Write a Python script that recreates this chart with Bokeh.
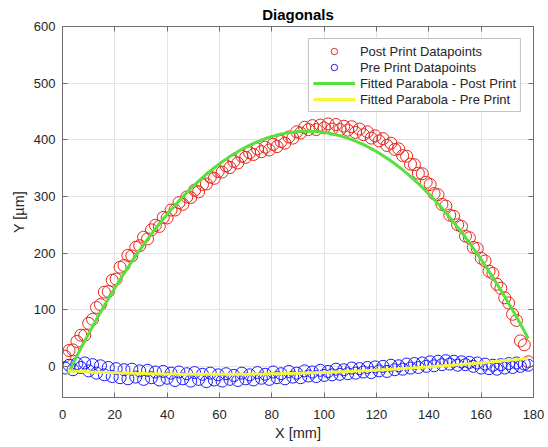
import numpy as np
from bokeh.plotting import figure
from bokeh.models import Range1d, LinearAxis, FixedTicker, Legend, LegendItem, CustomLabelingPolicy
from bokeh.embed import file_html
from bokeh.resources import INLINE

# ---- data ----
x_mm = [1.0, 2.5, 4.0, 5.5, 7.0, 8.5, 10.0, 11.5, 13.0, 14.5, 16.0, 17.5, 19.0, 20.5, 22.0, 23.5,
        25.0, 26.5, 28.0, 29.5, 31.0, 32.5, 34.0, 35.5, 37.0, 38.5, 40.0, 41.5, 43.0, 44.5, 46.0,
        47.5, 49.0, 50.5, 52.0, 53.5, 55.0, 56.5, 58.0, 59.5, 61.0, 62.5, 64.0, 65.5, 67.0, 68.5,
        70.0, 71.5, 73.0, 74.5, 76.0, 77.5, 79.0, 80.5, 82.0, 83.5, 85.0, 86.5, 88.0, 89.5, 91.0,
        92.5, 94.0, 95.5, 97.0, 98.5, 100.0, 101.5, 103.0, 104.5, 106.0, 107.5, 109.0, 110.5,
        112.0, 113.5, 115.0, 116.5, 118.0, 119.5, 121.0, 122.5, 124.0, 125.5, 127.0, 128.5,
        130.0, 131.5, 133.0, 134.5, 136.0, 137.5, 139.0, 140.5, 142.0, 143.5, 145.0, 146.5,
        148.0, 149.5, 151.0, 152.5, 154.0, 155.5, 157.0, 158.5, 160.0, 161.5, 163.0, 164.5,
        166.0, 167.5, 169.0, 170.5, 172.0, 173.5, 175.0, 176.5, 178.0]

post_print_y = [18, 28, 29, 44, 55, 55, 76, 83, 104, 109, 131, 132, 152, 154, 175, 178,
                196, 195, 210, 213, 228, 225, 241, 249, 247, 263, 262, 276, 276, 289, 286,
                299, 298, 311, 308, 321, 322, 334, 332, 344, 343, 354, 351, 362, 359, 371,
                369, 377, 374, 384, 379, 387, 382, 392, 388, 397, 394, 405, 403, 414, 412,
                422, 418, 425, 418, 426, 421, 428, 419, 427, 418, 424, 417, 423,
                413, 419, 409, 414, 403, 407, 398, 402, 390, 394, 383, 384,
                372, 371, 357, 356, 341, 340, 325, 321, 305, 303, 286, 283,
                267, 265, 250, 247, 230, 227, 210, 208, 191, 186, 168, 164,
                145, 138, 121, 112, 92, 81, 45, 38, 8]

pre_print_y = [-3, 2, -6, 5, -2, 6, -8, 3, -12, 1, -15, -2, -18, -4, -20, -6,
               -22, -5, -19, -8, -23, -7, -20, -10, -24, -9, -21, -12, -25, -10, -22,
               -13, -26, -11, -23, -14, -27, -12, -24, -15, -26, -13, -23, -16, -25, -12,
               -22, -15, -24, -11, -21, -14, -23, -10, -20, -13, -22, -9, -19, -12, -20,
               -8, -17, -10, -18, -7, -16, -9, -15, -5, -14, -6, -13, -3,
               -12, -4, -10, -2, -11, -1, -8, 0, -9, 2, -6, 1,
               -5, 4, -3, 5, -2, 6, 0, 8, 1, 9, 3, 10,
               4, 9, 2, 8, 3, 7, 0, 6, -3, 4, -4, 2,
               -5, 3, -3, 5, -2, 6, 0, 4, 2]

# fitted parabolas y = a*x^2 + b*x + c  (coefficients read from the drawn fits)
post_fit_coeffs = [-0.05124, 9.582, -32.9]
pre_fit_coeffs = [0.001955, -0.227, -7.55]
fit_x_range = [2.0, 178.0]

x_ticks = [0, 20, 40, 60, 80, 100, 120, 140, 160, 180]
y_ticks = [0, 100, 200, 300, 400, 500, 600]

FONT = "Liberation Sans"
AX = "#6e6e6e"
TXT = "#262626"

fit_x = np.linspace(fit_x_range[0], fit_x_range[1], 300)
post_fit_y = np.polyval(post_fit_coeffs, fit_x)
pre_fit_y = np.polyval(pre_fit_coeffs, fit_x)

p = figure(width=548, height=447, x_range=Range1d(0, 180), y_range=Range1d(-55, 600),
           output_backend="svg", toolbar_location=None,
           min_border_left=62, min_border_right=15, min_border_top=0, min_border_bottom=50)

p.title.text = "Diagonals"
p.title.align = "center"
p.title.text_font = FONT
p.title.text_font_size = "15px"
p.title.text_font_style = "bold"
p.title.text_color = "#000000"
p.title.standoff = 7
p.title.offset = 0

p.outline_line_color = AX
p.outline_line_width = 1

for ax in (p.xaxis[0], p.yaxis[0]):
    ax.axis_line_color = AX
    ax.major_tick_line_color = AX
    ax.major_tick_in = 5
    ax.major_tick_out = 0
    ax.minor_tick_line_color = None
    ax.major_label_text_font = FONT
    ax.major_label_text_font_size = "13px"
    ax.major_label_text_color = TXT
    ax.axis_label_text_font = FONT
    ax.axis_label_text_font_size = "14.5px"
    ax.axis_label_text_font_style = "normal"
    ax.axis_label_text_color = TXT

p.xaxis[0].ticker = FixedTicker(ticks=x_ticks)
p.yaxis[0].ticker = FixedTicker(ticks=y_ticks)
p.xaxis[0].axis_label = "X [mm]"
p.yaxis[0].axis_label = "Y [µm]"
p.xaxis[0].major_label_standoff = 12
p.xaxis[0].axis_label_standoff = 3
p.yaxis[0].major_label_standoff = 7
p.yaxis[0].axis_label_standoff = 4

no_labels = CustomLabelingPolicy(code="""
for (const i of Array.from(indices)) indices.unset(i)
return indices
""")

top_ax = LinearAxis(ticker=FixedTicker(ticks=x_ticks))
right_ax = LinearAxis(ticker=FixedTicker(ticks=y_ticks))
for ax in (top_ax, right_ax):
    ax.axis_line_color = AX
    ax.major_tick_line_color = AX
    ax.major_tick_in = 5
    ax.major_tick_out = 0
    ax.minor_tick_line_color = None
    ax.major_label_policy = no_labels
    ax.major_label_text_font_size = "0px"
    ax.major_label_standoff = 0
    ax.axis_label_standoff = 0
p.add_layout(top_ax, "above")
p.add_layout(right_ax, "right")

p.xgrid.grid_line_color = "#e4e4e4"
p.ygrid.grid_line_color = "#e4e4e4"
p.xgrid.ticker = FixedTicker(ticks=x_ticks)
p.ygrid.ticker = FixedTicker(ticks=y_ticks)

r_post = p.scatter(x_mm, post_print_y, marker="circle", size=12, fill_color=None,
                   line_color="#e8261c", line_width=1)
r_pre = p.scatter(x_mm, pre_print_y, marker="circle", size=12, fill_color=None,
                  line_color="#1a1aff", line_width=1)
r_pf = p.line(fit_x, post_fit_y, line_color="#55e23c", line_width=3)
r_qf = p.line(fit_x, pre_fit_y, line_color="#f7f73a", line_width=3)

legend = Legend(items=[
    LegendItem(label="Post Print Datapoints", renderers=[r_post]),
    LegendItem(label="Pre Print Datapoints", renderers=[r_pre]),
    LegendItem(label="Fitted Parabola - Post Print", renderers=[r_pf]),
    LegendItem(label="Fitted Parabola - Pre Print", renderers=[r_qf]),
])
legend.location = "top_right"
legend.margin = 12
legend.padding = 4
legend.spacing = 0
legend.glyph_width = 42
legend.glyph_height = 16
legend.label_height = 16
legend.label_standoff = 5
legend.label_text_font = FONT
legend.label_text_font_size = "13px"
legend.label_text_color = TXT
legend.border_line_color = "#8a8a8a"
legend.border_line_width = 1
legend.background_fill_color = "white"
legend.background_fill_alpha = 1
p.add_layout(legend)

open("out.html", "w").write(file_html(p, INLINE))
